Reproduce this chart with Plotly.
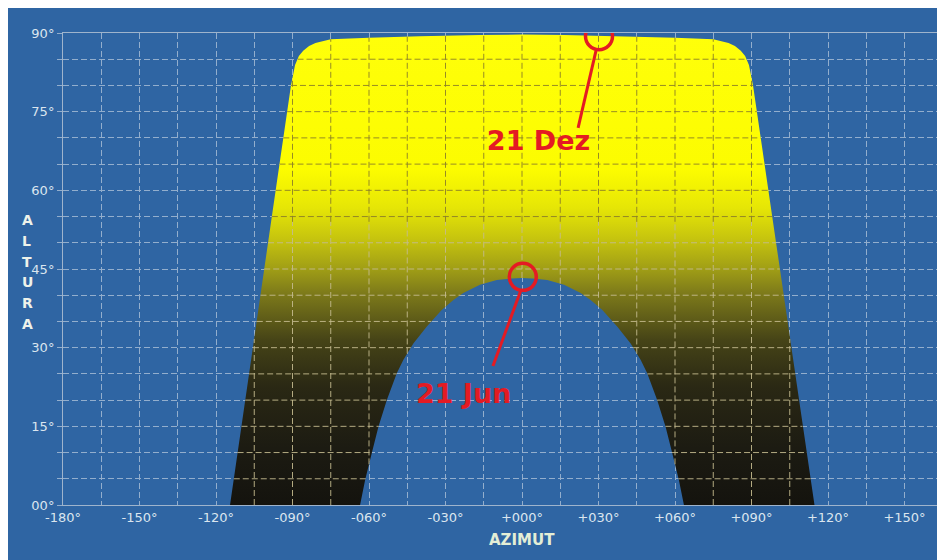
import numpy as np
import plotly.graph_objects as go

# ---------------- data ----------------
# outer envelope of the yearly sun-path band (left horizon -> top -> right horizon)
outer_az = [-114.5, -112.3, -110.0, -107.0, -104.0, -101.1, -98.1, -95.1, -92.1, -90.6,
            -89.0, -87.5, -85.8, -83.5, -81.0, -78.0, -75.0, -60.0, -40.0, -16.5, 0.0,
            16.5, 40.0, 60.0, 75.0, 78.0, 81.0, 83.5, 85.8, 87.5, 89.0, 90.6, 92.1,
            95.1, 98.1, 101.1, 104.0, 107.0, 110.0, 112.3, 114.7]
outer_alt = [0.0, 7.5, 15.0, 25.0, 35.0, 45.0, 55.0, 65.0, 75.0, 80.0,
             83.9, 85.6, 86.6, 87.5, 88.1, 88.5, 88.8, 89.1, 89.4, 89.6, 89.7,
             89.6, 89.4, 89.1, 88.8, 88.5, 88.1, 87.5, 86.6, 85.6, 83.9, 80.0, 75.0,
             65.0, 55.0, 45.0, 35.0, 25.0, 15.0, 7.5, 0.0]

# 21 Jun sun path (inner arch)
jun_az = [-63.5, -61.5, -58.9, -56.3, -53.0, -49.1, -46.5, -42.6, -37.4, -31.5, -26.9,
          -23.0, -16.5, -9.9, -4.0, 0.0, 4.0, 9.9, 16.5, 23.0, 26.9, 31.5, 37.4, 42.6,
          46.5, 49.1, 53.0, 56.3, 58.9, 61.5, 63.5]
jun_alt = [0.0, 4.8, 9.9, 14.9, 20.0, 25.1, 27.7, 30.8, 34.0, 37.2, 39.1,
           40.4, 42.0, 42.9, 43.2, 43.3, 43.2, 42.9, 42.0, 40.4, 39.1, 37.2, 34.0, 30.8,
           27.7, 25.1, 20.0, 14.9, 9.9, 4.8, 0.0]

x_tick_vals = [-180, -150, -120, -90, -60, -30, 0, 30, 60, 90, 120, 150]
x_tick_text = ["-180°", "-150°", "-120°", "-090°", "-060°", "-030°", "+000°",
               "+030°", "+060°", "+090°", "+120°", "+150°"]
y_tick_vals = [0, 15, 30, 45, 60, 75, 90]
y_tick_text = ["00°", "15°", "30°", "45°", "60°", "75°", "90°"]

grid_az = [-165, -150, -135, -120, -105, -90, -75, -60, -45, -30, -15, 0,
           15, 30, 45, 60, 75, 90, 105, 120, 135, 150, 165]
grid_alt = [5, 10, 15, 20, 25, 30, 35, 40, 45, 50, 55, 60, 65, 70, 75, 80, 85]

# highlighted dates
mark_text = ["21 Dez", "21 Jun"]
mark_az = [30.2, 0.3]
mark_alt = [89.4, 43.5]
text_az = [6.5, -22.9]
text_alt = [68.9, 20.8]
lead_from_az = [29.0, -0.4]
lead_from_alt = [86.6, 41.0]
lead_to_az = [22.0, -11.4]
lead_to_alt = [71.9, 26.5]

# ---------------- style ----------------
BLUE = "#2f65a3"
GRID_BLUE = "#93aecd"
AXLINE = "#9fb4cc"
LABEL = "#dbe5ef"
RED = "#e41b23"
DASH = "6px,3px"
SPLIT = 54.0  # altitude where grid over the band turns from light to dark

fig = go.Figure()

# band polygon: outer envelope, then 21 Jun arch back to the start
poly_az = outer_az + jun_az[::-1]
poly_alt = outer_alt + jun_alt[::-1]
fig.add_trace(go.Scatter(
    x=poly_az, y=poly_alt, mode="lines", fill="toself",
    line=dict(width=0, color="rgba(0,0,0,0)"),
    fillgradient=dict(
        type="vertical", start=0, stop=90,
        colorscale=[
            [0.00, "rgb(20,19,14)"],
            [0.12, "rgb(28,27,18)"],
            [0.25, "rgb(42,40,20)"],
            [0.35, "rgb(70,68,23)"],
            [0.45, "rgb(126,123,26)"],
            [0.50, "rgb(160,158,22)"],
            [0.56, "rgb(196,194,15)"],
            [0.63, "rgb(230,230,6)"],
            [0.71, "rgb(252,252,0)"],
            [1.00, "rgb(255,255,10)"],
        ]),
    hoverinfo="skip", showlegend=False))

# grid lines drawn over the band (computed from the band boundaries)
oa = np.array(outer_az); ol = np.array(outer_alt)
ja = np.array(jun_az); jl = np.array(jun_alt)
imid = int(np.argmax(ol))
jmid = int(np.argmax(jl))
lo_x, lo_y, hi_x, hi_y = [], [], [], []


def add_seg(xs, ys, high):
    if high:
        hi_x.extend(xs + [None]); hi_y.extend(ys + [None])
    else:
        lo_x.extend(xs + [None]); lo_y.extend(ys + [None])


for a in grid_az:
    if a <= oa[0] or a >= oa[-1]:
        continue
    top = float(np.interp(a, oa, ol))
    bot = float(np.interp(a, ja, jl))
    if bot < SPLIT:
        add_seg([a, a], [bot, min(top, SPLIT)], False)
    if top > SPLIT:
        add_seg([a, a], [max(bot, SPLIT), top], True)

for h in grid_alt:
    if h >= ol.max():
        continue
    xl = float(np.interp(h, ol[:imid + 1], oa[:imid + 1]))
    xr = float(np.interp(h, ol[imid:][::-1], oa[imid:][::-1]))
    high = h >= SPLIT
    if h < jl.max():
        xjl = float(np.interp(h, jl[:jmid + 1], ja[:jmid + 1]))
        xjr = float(np.interp(h, jl[jmid:][::-1], ja[jmid:][::-1]))
        add_seg([xl, xjl], [h, h], high)
        add_seg([xjr, xr], [h, h], high)
    else:
        add_seg([xl, xr], [h, h], high)

fig.add_trace(go.Scatter(x=lo_x, y=lo_y, mode="lines",
                         line=dict(color="rgba(196,186,142,0.9)", width=1, dash=DASH),
                         hoverinfo="skip", showlegend=False))
fig.add_trace(go.Scatter(x=hi_x, y=hi_y, mode="lines",
                         line=dict(color="rgba(140,128,40,0.9)", width=1, dash=DASH),
                         hoverinfo="skip", showlegend=False))

# leader lines and circles
for i in range(len(mark_text)):
    fig.add_trace(go.Scatter(x=[lead_from_az[i], lead_to_az[i]],
                             y=[lead_from_alt[i], lead_to_alt[i]],
                             mode="lines", line=dict(color=RED, width=3),
                             hoverinfo="skip", showlegend=False))
fig.add_trace(go.Scatter(x=mark_az, y=mark_alt, mode="markers",
                         marker=dict(symbol="circle-open", size=27,
                                     line=dict(color=RED, width=3.5), color=RED),
                         hoverinfo="skip", showlegend=False))
fig.add_trace(go.Scatter(x=text_az, y=text_alt, mode="text", text=mark_text,
                         textfont=dict(family="DejaVu Sans", size=27, color=RED,
                                       weight="bold"),
                         hoverinfo="skip", showlegend=False))

# ---------------- layout ----------------
# the page keeps an 8 px body margin, so the figure fills the rest of the window
OFF = 8
W, H = 945 - OFF, 560 - OFF
ML, MR, MT, MB = 63 - OFF, 0, 33 - OFF, 55
pw = W - ML - MR
ph = H - MT - MB


def px_to_paper_x(px):  # px given in window coordinates
    return (px - OFF - ML) / pw


def px_to_paper_y(py):
    return (H - MB - (py - OFF)) / ph


annotations = [dict(text="<b>AZIMUT</b>", x=0, xref="x", y=px_to_paper_y(551),
                    yref="paper", showarrow=False,
                    font=dict(family="DejaVu Sans", size=15, color="#e4eed6"))]
for k, ch in enumerate("ALTURA"):
    annotations.append(dict(text="<b>%s</b>" % ch, x=px_to_paper_x(20), xref="paper",
                            y=px_to_paper_y(220 + k * 20.8), yref="paper",
                            showarrow=False,
                            font=dict(family="DejaVu Sans", size=14, color="#eef2ea")))

fig.update_layout(
    width=W, height=H,
    margin=dict(l=ML, r=MR, t=MT, b=MB, autoexpand=False),
    paper_bgcolor=BLUE, plot_bgcolor=BLUE,
    showlegend=False,
    font=dict(family="DejaVu Sans", size=13, color=LABEL),
    xaxis=dict(range=[-180, -180 + pw * 30 / 76.5], tickmode="array",
               tickvals=x_tick_vals, ticktext=x_tick_text,
               showgrid=True, gridcolor=GRID_BLUE, griddash=DASH, gridwidth=1,
               minor=dict(tickmode="linear", tick0=-180, dtick=15, showgrid=True,
                          gridcolor=GRID_BLUE, griddash=DASH, gridwidth=1),
               zeroline=False, showline=True, linecolor=AXLINE, linewidth=1,
               mirror=True, ticks="", tickfont=dict(size=13, color=LABEL),
               fixedrange=True),
    yaxis=dict(range=[0, 90], tickmode="array", tickvals=y_tick_vals,
               ticktext=y_tick_text,
               showgrid=True, gridcolor=GRID_BLUE, griddash=DASH, gridwidth=1,
               minor=dict(tickmode="linear", tick0=0, dtick=5, showgrid=True,
                          gridcolor=GRID_BLUE, griddash=DASH, gridwidth=1,
                          ticks="outside", ticklen=5, tickcolor=GRID_BLUE),
               ticks="outside", ticklen=5, tickcolor=GRID_BLUE,
               zeroline=False, showline=True, linecolor=AXLINE, linewidth=1,
               tickfont=dict(size=13, color=LABEL), fixedrange=True),
    annotations=annotations,
)

fig.write_html("out.html")
